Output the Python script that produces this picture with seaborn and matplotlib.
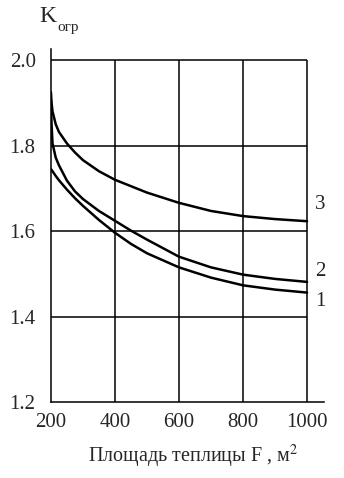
# K_огр vs площадь теплицы, три кривые
import pandas as pd
import matplotlib
matplotlib.use("Agg")
import matplotlib.pyplot as plt
import seaborn as sns

# %%
area = [200, 202, 205, 215, 225, 250, 275, 300, 350, 400, 450, 500, 600, 700, 800, 900, 1000]
k_curve1 = [1.745, 1.743, 1.740, 1.729, 1.719, 1.697, 1.677, 1.659, 1.626, 1.596,
            1.570, 1.548, 1.515, 1.491, 1.473, 1.463, 1.456]
k_curve2 = [1.905, 1.850, 1.805, 1.772, 1.754, 1.718, 1.693, 1.675, 1.647, 1.624,
            1.601, 1.580, 1.540, 1.515, 1.498, 1.488, 1.481]
k_curve3 = [1.925, 1.900, 1.880, 1.850, 1.832, 1.805, 1.784, 1.766, 1.740, 1.720,
            1.705, 1.690, 1.666, 1.647, 1.635, 1.628, 1.623]
curve_names = ["1", "2", "3"]

x_ticks = [200, 400, 600, 800, 1000]
y_ticks = [1.2, 1.4, 1.6, 1.8, 2.0]

df = pd.DataFrame({
    "F": area * 3,
    "K": k_curve1 + k_curve2 + k_curve3,
    "curve": [n for n in curve_names for _ in area],
})

# %%
sns.set_style("white")
plt.rcParams["font.family"] = ["Liberation Serif", "DejaVu Serif"]
plt.rcParams["mathtext.fontset"] = "stix"

fig = plt.figure(figsize=(3.44, 4.78), dpi=100)
ax = fig.add_axes([0.148, 0.159, 0.794, 0.7385])

# сетка только внутри 200..1000 / 1.2..2.0
ax.hlines(y_ticks[1:], x_ticks[0], x_ticks[-1], color="black", lw=1.1)
ax.vlines(x_ticks[1:], y_ticks[0], y_ticks[-1], color="black", lw=1.1)

sns.lineplot(data=df, x="F", y="K", hue="curve",
             palette=["black"] * 3, lw=1.8, legend=False, ax=ax)

# подписи кривых справа
label_pos = {"1": (1040, 1.436), "2": (1040, 1.505), "3": (1040, 1.663)}
for name, (lx, ly) in label_pos.items():
    ax.text(lx, ly, name, fontsize=15, ha="center", va="center")

ax.set_xlim(200, 1053)
ax.set_ylim(1.2, 2.026)
ax.set_xticks(x_ticks)
ax.set_yticks(y_ticks)
ax.set_xticklabels([str(t) for t in x_ticks])
ax.set_yticklabels([f"{t:.1f}" for t in y_ticks])
ax.tick_params(axis="both", length=0, labelsize=15)
ax.tick_params(axis="y", pad=11)
ax.tick_params(axis="x", pad=8)

for s in ["top", "right"]:
    ax.spines[s].set_visible(False)
for s in ["left", "bottom"]:
    ax.spines[s].set_color("black")
    ax.spines[s].set_linewidth(1.1)

ax.set_xlabel("")
ax.set_ylabel("")
fig.text(0.5625, 0.0335, r"Площадь теплицы F , м$^2$", fontsize=14.5,
         ha="center", va="baseline")
fig.text(0.115, 0.965, "K", fontsize=17, ha="left", va="center")
fig.text(0.168, 0.942, "огр", fontsize=11, ha="left", va="center")

plt.savefig("out.png", dpi=100, facecolor="white")
